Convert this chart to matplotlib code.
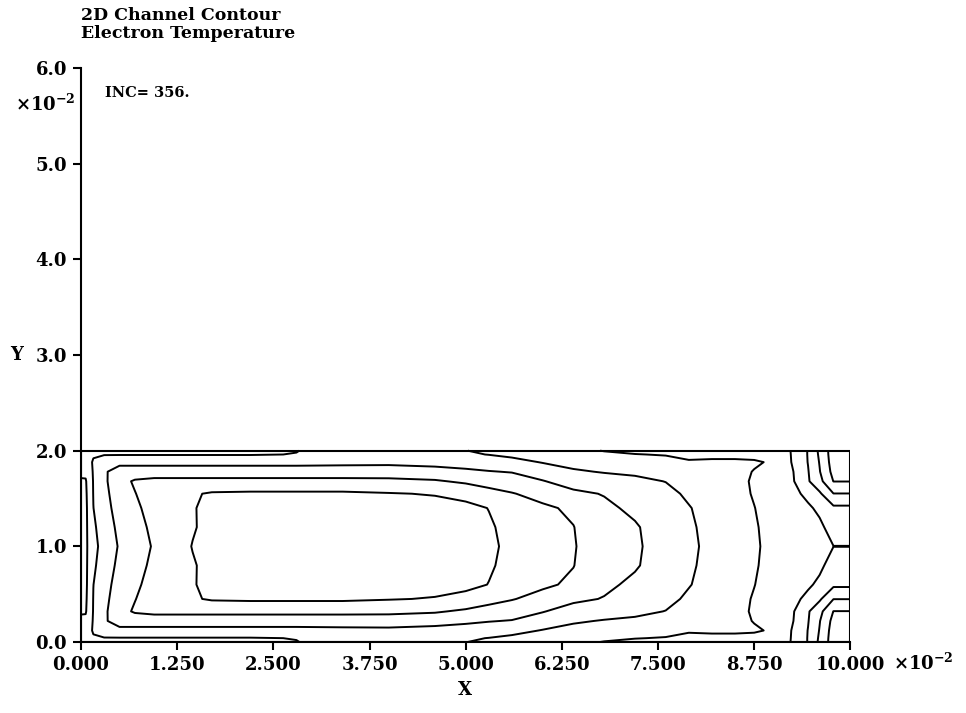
import numpy as np
import matplotlib.pyplot as plt
from matplotlib.patches import Rectangle

plt.rcParams['font.family'] = ['DejaVu Serif']
plt.rcParams['font.weight'] = 'bold'
plt.rcParams['mathtext.fontset'] = 'dejavuserif'

# mesh of the channel (x, y in 1e-2 m)
x_nodes = [0.0, 0.06, 0.16, 0.3, 0.5, 0.7, 0.95, 1.2, 1.45, 1.7, 2.2, 2.8, 3.4,
           4.0, 4.6, 5.0, 5.3, 5.6, 6.0, 6.4, 6.8, 7.2, 7.6, 7.9, 8.2, 8.5,
           8.75, 8.95, 9.2, 9.45, 9.6, 9.78, 10.0]
y_nodes = [0.0, 0.04, 0.12, 0.22, 0.32, 0.45, 0.6, 0.8, 1.0,
           1.2, 1.4, 1.55, 1.68, 1.78, 1.88, 1.96, 2.0]

# nodal electron temperature, one row per x node, wall (y=0) to centreline (y=1)
te_half = [
    [5.8, 5.75, 5.6, 5.3, 4.85, 4.7, 4.65, 4.6, 4.6],
    [5.85, 5.85, 5.75, 5.2, 4.92, 4.85, 4.8, 4.8, 4.8],
    [5.88, 5.95, 6.05, 6.08, 6.05, 6.03, 5.99, 5.85, 5.75],
    [5.9, 5.95, 6.55, 6.85, 6.8, 6.7, 6.6, 6.45, 6.32],
    [5.9, 5.95, 6.7, 7.5, 7.7, 7.6, 7.45, 7.25, 7.1],
    [5.9, 5.95, 6.7, 7.5, 8.1, 7.97, 7.8, 7.6, 7.5],
    [5.9, 5.95, 6.7, 7.5, 8.25, 8.45, 8.4, 8.25, 8.1],
    [5.9, 5.95, 6.7, 7.5, 8.25, 8.75, 8.8, 8.7, 8.6],
    [5.9, 5.95, 6.7, 7.5, 8.25, 8.9, 8.95, 8.93, 9.03],
    [5.9, 5.95, 6.7, 7.5, 8.25, 9.1, 9.2, 9.25, 9.3],
    [5.9, 5.95, 6.7, 7.5, 8.25, 9.15, 9.4, 9.55, 9.6],
    [5.98, 6.02, 6.7, 7.5, 8.25, 9.15, 9.45, 9.6, 9.65],
    [6.3, 6.35, 6.75, 7.5, 8.25, 9.15, 9.45, 9.6, 9.65],
    [6.4, 6.45, 6.8, 7.45, 8.25, 9.05, 9.4, 9.55, 9.6],
    [6.3, 6.35, 6.65, 7.4, 8.1, 8.95, 9.3, 9.45, 9.5],
    [6.02, 6.1, 6.55, 7.2, 7.85, 8.7, 9.25, 9.35, 9.4],
    [5.8, 5.98, 6.45, 7.05, 7.6, 8.35, 8.98, 9.1, 9.12],
    [5.6, 5.8, 6.3, 6.95, 7.5, 8.05, 8.5, 8.75, 8.85],
    [5.4, 5.6, 5.95, 6.55, 7.05, 7.7, 8.15, 8.35, 8.45],
    [5.2, 5.35, 5.75, 6.1, 6.6, 7.2, 7.85, 8.02, 8.05],
    [4.97, 5.15, 5.55, 5.95, 6.35, 6.95, 7.2, 7.4, 7.55],
    [4.8, 5.03, 5.45, 5.85, 6.2, 6.5, 6.8, 7.1, 7.15],
    [4.7, 4.95, 5.3, 5.65, 5.98, 6.25, 6.4, 6.5, 6.55],
    [4.65, 4.88, 5.05, 5.35, 5.6, 5.85, 6.05, 6.15, 6.2],
    [4.6, 4.85, 5.1, 5.3, 5.45, 5.55, 5.65, 5.7, 5.75],
    [4.55, 4.85, 5.1, 5.2, 5.25, 5.3, 5.35, 5.35, 5.38],
    [4.5, 4.8, 5.08, 4.97, 4.9, 4.93, 5.02, 5.08, 5.1],
    [4.4, 4.6, 4.95, 4.6, 4.55, 4.6, 4.7, 4.8, 4.85],
    [4.1, 4.12, 4.15, 4.3, 4.35, 4.4, 4.5, 4.6, 4.65],
    [2.95, 2.95, 2.97, 3.05, 3.1, 3.75, 4.15, 4.45, 4.5],
    [1.8, 1.85, 1.95, 2.05, 2.3, 3.15, 3.8, 4.2, 4.3],
    [0.5, 0.5, 0.55, 0.7, 0.98, 2.02, 3.2, 3.6, 4.01],
    [0.5, 0.5, 0.55, 0.7, 0.98, 2.02, 3.2, 3.6, 4.01],
]
levels = [1, 2, 3, 4, 5, 6, 7, 8, 9]

x_ticks = [0.0, 1.25, 2.5, 3.75, 5.0, 6.25, 7.5, 8.75, 10.0]
y_ticks = [0.0, 1.0, 2.0, 3.0, 4.0, 5.0, 6.0]

# channel is symmetric about its centreline
half = np.array(te_half).T
te = np.vstack([half, half[-2::-1]])

fig = plt.figure(figsize=(9.66, 7.13), dpi=100)
ax = fig.add_axes([0.0839, 0.0996, 0.7964, 0.805])

ax.contour(x_nodes, y_nodes, te, levels=levels, colors='black', linewidths=1.4)
ax.add_patch(Rectangle((x_nodes[0], y_nodes[0]), x_nodes[-1] - x_nodes[0],
                       y_nodes[-1] - y_nodes[0], fill=False, ec='black', lw=1.5))

ax.set_xlim(0, 10)
ax.set_ylim(0, 6)
ax.spines['top'].set_visible(False)
ax.spines['right'].set_visible(False)
for s in ['left', 'bottom']:
    ax.spines[s].set_linewidth(1.5)

ax.set_xticks(x_ticks)
ax.set_xticklabels([f'{v:.3f}' for v in x_ticks])
ax.set_yticks(y_ticks)
ax.set_yticklabels([f'{v:.1f}' for v in y_ticks])
ax.tick_params(direction='out', length=6, width=1.5, labelsize=13, pad=4)

fig.text(0.084, 0.99, '2D Channel Contour\nElectron Temperature',
         fontsize=12.5, va='top', ha='left', linespacing=1.1)
fig.text(0.078, 0.854, r'$\times10^{-2}$', fontsize=13, ha='right', va='center')
fig.text(0.924, 0.070, r'$\times10^{-2}$', fontsize=13, ha='left', va='center')
fig.text(0.109, 0.869, 'INC= 356.', fontsize=10.5, ha='left', va='center')
fig.text(0.017, 0.502, 'Y', fontsize=13, ha='center', va='center')
fig.text(0.481, 0.032, 'X', fontsize=13, ha='center', va='center')

fig.savefig('out.png', dpi=100)
